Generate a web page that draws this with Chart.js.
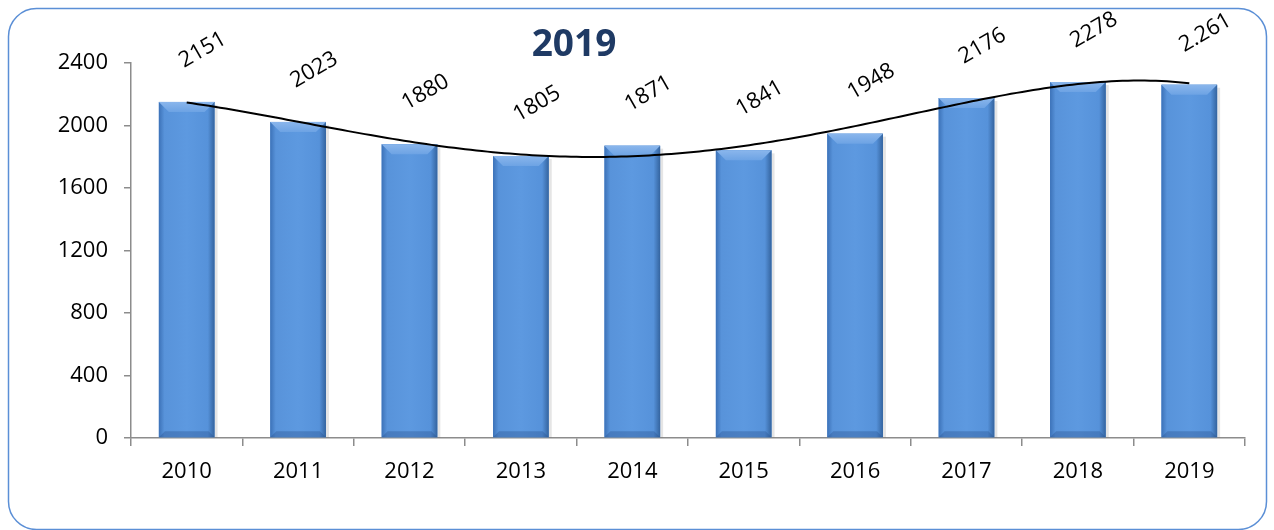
<!DOCTYPE html>
<html>
<head>
<meta charset="utf-8">
<script src="https://cdn.jsdelivr.net/npm/chart.js@4.4.1/dist/chart.umd.min.js"></script>
<style>
  html, body { margin: 0; padding: 0; background: #fff; }
  #wrap { width: 1274px; height: 530px; position: relative; }
</style>
</head>
<body>
<div id="wrap"><canvas id="myChart" width="1274" height="530"></canvas></div>
<script>
// data
const years = ['2010', '2011', '2012', '2013', '2014', '2015', '2016', '2017', '2018', '2019'];
const values = [2151, 2023, 1880, 1805, 1871, 1841, 1948, 2176, 2278, 2261];
const valueLabels = ['2151', '2023', '1880', '1805', '1871', '1841', '1948', '2176', '2278', '2.261'];
const yTicks = [0, 400, 800, 1200, 1600, 2000, 2400];
const chartTitle = '2019';

const FONT = "'Open Sans', 'Liberation Sans', sans-serif";
const AXIS = '#8c8c8c';

// polynomial least squares (the trendline in the original)
function polyFit(ys, order) {
  const n = order + 1;
  const A = [];
  for (let r = 0; r < n; r++) {
    A.push(new Array(n + 1).fill(0));
  }
  ys.forEach((y, i) => {
    const x = i + 1;
    for (let r = 0; r < n; r++) {
      for (let c = 0; c < n; c++) A[r][c] += Math.pow(x, r + c);
      A[r][n] += y * Math.pow(x, r);
    }
  });
  for (let k = 0; k < n; k++) {
    let p = k;
    for (let r = k + 1; r < n; r++) if (Math.abs(A[r][k]) > Math.abs(A[p][k])) p = r;
    [A[k], A[p]] = [A[p], A[k]];
    for (let r = k + 1; r < n; r++) {
      const f = A[r][k] / A[k][k];
      for (let c = k; c <= n; c++) A[r][c] -= f * A[k][c];
    }
  }
  const coef = new Array(n).fill(0);
  for (let r = n - 1; r >= 0; r--) {
    let s = A[r][n];
    for (let c = r + 1; c < n; c++) s -= A[r][c] * coef[c];
    coef[r] = s / A[r][r];
  }
  return coef;
}
const trendCoef = polyFit(values, 4);
const trendAt = (t) => trendCoef.reduce((s, c, k) => s + c * Math.pow(t + 1, k), 0);

const framePlugin = {
  id: 'frame',
  beforeDraw(chart) {
    const ctx = chart.ctx;
    ctx.save();
    ctx.fillStyle = '#fff';
    ctx.fillRect(0, 0, chart.width, chart.height);
    ctx.beginPath();
    ctx.roundRect(8.5, 8.5, 1258, 521, 28);
    ctx.strokeStyle = '#5b8fd6';
    ctx.lineWidth = 1.5;
    ctx.stroke();
    // title
    ctx.fillStyle = '#1f3a64';
    ctx.font = 'bold 37px ' + FONT;
    ctx.textAlign = 'center';
    ctx.textBaseline = 'middle';
    ctx.fillText(chartTitle, 574, 45);
    ctx.restore();
  }
};

const barLookPlugin = {
  id: 'barLook',
  afterDatasetsDraw(chart) {
    const ctx = chart.ctx;
    const meta = chart.getDatasetMeta(0);
    const xs = chart.scales.x;
    const ys = chart.scales.y;
    ctx.save();
    meta.data.forEach((bar) => {
      const w = bar.width;
      const l = bar.x - w / 2;
      const r = bar.x + w / 2;
      const top = bar.y;
      const bot = bar.base;
      // soft shadow right
      ctx.fillStyle = 'rgba(0,0,0,0.10)';
      ctx.fillRect(r, top + 3, 3, bot - top - 3);
      // body
      const g = ctx.createLinearGradient(l, 0, r, 0);
      g.addColorStop(0, '#3c72b8');
      g.addColorStop(0.1, '#5893da');
      g.addColorStop(0.5, '#5d99e0');
      g.addColorStop(0.88, '#5692da');
      g.addColorStop(1, '#34649f');
      ctx.fillStyle = g;
      ctx.fillRect(l, top, w, bot - top);
      // top bevel
      const b = 10;
      const gt = ctx.createLinearGradient(0, top, 0, top + b);
      gt.addColorStop(0, '#8ab6ec');
      gt.addColorStop(1, '#6da3e4');
      ctx.fillStyle = gt;
      ctx.beginPath();
      ctx.moveTo(l, top);
      ctx.lineTo(r, top);
      ctx.lineTo(r - b, top + b);
      ctx.lineTo(l + b, top + b);
      ctx.closePath();
      ctx.fill();
      // bottom bevel
      ctx.fillStyle = 'rgba(40,80,140,0.35)';
      ctx.beginPath();
      ctx.moveTo(l, bot);
      ctx.lineTo(r, bot);
      ctx.lineTo(r - 6, bot - 6);
      ctx.lineTo(l + 6, bot - 6);
      ctx.closePath();
      ctx.fill();
    });

    // trendline
    ctx.beginPath();
    for (let t = 0; t <= values.length - 1 + 1e-9; t += 0.05) {
      const px = xs.getPixelForValue(t);
      const py = ys.getPixelForValue(trendAt(t));
      if (t === 0) ctx.moveTo(px, py); else ctx.lineTo(px, py);
    }
    ctx.strokeStyle = '#000';
    ctx.lineWidth = 2;
    ctx.stroke();

    // rotated value labels
    ctx.fillStyle = '#000';
    ctx.font = '22px ' + FONT;
    ctx.textAlign = 'center';
    ctx.textBaseline = 'middle';
    meta.data.forEach((bar, i) => {
      ctx.save();
      ctx.translate(bar.x + 16, bar.y - 52);
      ctx.rotate(-30 * Math.PI / 180);
      ctx.fillText(valueLabels[i], 0, 0);
      ctx.restore();
    });
    ctx.restore();
  }
};

const data = {
  labels: years,
  datasets: [{
    label: chartTitle,
    data: values,
    backgroundColor: '#5b96dc',
    borderWidth: 0,
    barPercentage: 0.5,
    categoryPercentage: 1.0
  }]
};

const config = {
  type: 'bar',
  data: data,
  options: {
    responsive: false,
    animation: false,
    devicePixelRatio: 1,
    layout: { padding: { left: 0, right: 29, top: 63, bottom: 0 } },
    plugins: {
      legend: { display: false },
      title: { display: false },
      tooltip: { enabled: false }
    },
    scales: {
      x: {
        grid: { display: true, drawOnChartArea: false, tickLength: 8, color: AXIS, lineWidth: 1.5, offset: true },
        border: { color: AXIS, width: 1.5 },
        ticks: { color: '#000', font: { family: FONT, size: 22 }, padding: 13 },
        afterFit(scale) { scale.height = 92; }
      },
      y: {
        min: 0,
        max: 2400,
        afterBuildTicks(scale) { scale.ticks = yTicks.map(v => ({ value: v })); },
        grid: { display: true, drawOnChartArea: false, tickLength: 7, color: AXIS, lineWidth: 1.5 },
        border: { color: AXIS, width: 1.5 },
        ticks: {
          color: '#000',
          font: { family: FONT, size: 22 },
          padding: 16,
          callback: (v) => String(v)
        },
        afterFit(scale) { scale.width = 131; }
      }
    }
  },
  plugins: [framePlugin, barLookPlugin]
};

var myChart = new Chart(document.getElementById('myChart'), config);
</script>
</body>
</html>
